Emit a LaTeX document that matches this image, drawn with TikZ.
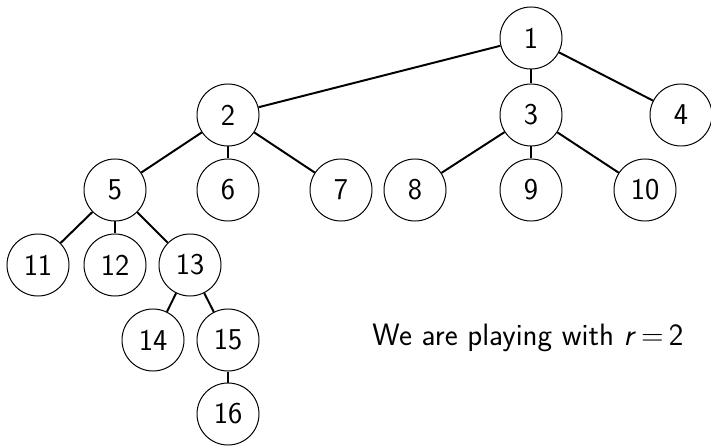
\documentclass[tikz,border=0pt]{standalone}
\renewcommand{\familydefault}{\sfdefault}
\begin{document}
\begin{tikzpicture}[x=0.025cm,y=-0.025cm,
  vert/.style={draw,circle,line width=0.7pt,minimum size=1.55cm,inner sep=0pt,font=\fontsize{21.5}{26}\selectfont},
  edge/.style={line width=1.4pt}]
\useasboundingbox (0,0) rectangle (711,446);
\node[vert] (n1) at (531,38) {1};
\node[vert] (n2) at (228,115) {2};
\node[vert] (n3) at (531,115) {3};
\node[vert] (n4) at (681,115) {4};
\node[vert] (n5) at (115,190) {5};
\node[vert] (n6) at (228,190) {6};
\node[vert] (n7) at (341,190) {7};
\node[vert] (n8) at (415,190) {8};
\node[vert] (n9) at (531,190) {9};
\node[vert] (n10) at (645,190) {10};
\node[vert] (n11) at (38,265) {11};
\node[vert] (n12) at (115,265) {12};
\node[vert] (n13) at (190,265) {13};
\node[vert] (n14) at (153,340) {14};
\node[vert] (n15) at (228,340) {15};
\node[vert] (n16) at (228,414) {16};
\node[font=\fontsize{22}{26}\selectfont,inner sep=0pt] (txt) at (528,338) {We are playing with \textit{r}\,=\,2};
\foreach \a/\b in {n1/n2,n1/n3,n1/n4,n2/n5,n2/n6,n2/n7,n3/n8,n3/n9,n3/n10,n5/n11,n5/n12,n5/n13,n13/n14,n13/n15,n15/n16}
  \draw[edge] (\a) -- (\b);
\end{tikzpicture}
\end{document}
